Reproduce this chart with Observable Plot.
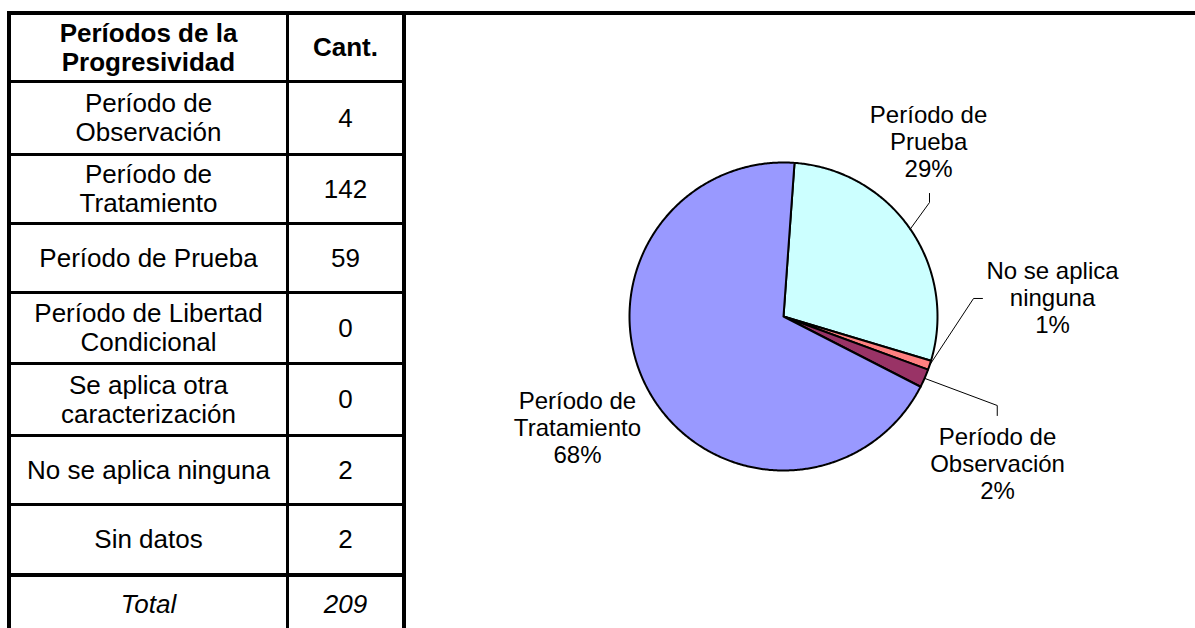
<!DOCTYPE html>
<html><head><meta charset="utf-8">
<script src="https://cdn.jsdelivr.net/npm/d3@7"></script>
<script src="https://cdn.jsdelivr.net/npm/@observablehq/plot@0.6"></script>
<style>
html,body{margin:0;padding:0;background:#fff;}
#page{position:relative;width:1195px;height:628px;overflow:hidden;font-family:Arial,"Liberation Sans",sans-serif;color:#000;background:#fff;}
#chart{position:absolute;left:0;top:0;}
.ln{position:absolute;background:#000;}
.cell{position:absolute;display:flex;align-items:center;justify-content:center;text-align:center;font-size:26px;line-height:29px;white-space:pre-line;}
</style></head><body><div id="page"><div id="chart"></div></div>
<script>
// ---- Data ----
const categories = ["Período de Observación","Período de Tratamiento","Período de Prueba","Período de Libertad Condicional","Se aplica otra caracterización","No se aplica ninguna","Sin datos"];
const tableLabels = ["Período de\nObservación","Período de\nTratamiento","Período de Prueba","Período de Libertad\nCondicional","Se aplica otra\ncaracterización","No se aplica ninguna","Sin datos"];
const counts = [4,142,59,0,0,2,2];
const headerLabels = ["Períodos de la\nProgresividad","Cant."];
const totalLabel = "Total";
const pieCategories = ["Período de Prueba","No se aplica ninguna","Período de Observación","Período de Tratamiento"];
const pieLabels = ["Período de\nPrueba","No se aplica\nninguna","Período de\nObservación","Período de\nTratamiento"];
const piePercents = ["29%","1%","2%","68%"];
const pieColors = ["#CCFFFF","#FF8080","#993366","#9999FF"];

// ---- Layout (pie units: radius = 1) ----
const R = 154, cx = 783, cy = 316, W = 1195, H = 628;
const startAngle = 4.1 * Math.PI / 180;
const labelPos = [[0.942, 1.136],[1.747, 0.123],[1.390, -0.955],[-1.338, -0.721]];
const leaderElbows = [[[0.948,0.740],[0.948,0.799]], [[1.234,0.117],[1.292,0.117]], [[1.388,-0.578],[1.388,-0.643]], null];

const pieVals = pieCategories.map(c => counts[categories.indexOf(c)]);
const arcs = d3.pie().sort(null).startAngle(startAngle).endAngle(startAngle + 2*Math.PI)(pieVals);

const sliceMarks = arcs.map((a, i) => {
  const pts = [{x:0,y:0}];
  const n = Math.max(2, Math.ceil((a.endAngle - a.startAngle) / (Math.PI/360)));
  for (let k = 0; k <= n; k++) {
    const t = a.startAngle + (a.endAngle - a.startAngle) * k / n;
    pts.push({x: Math.sin(t), y: Math.cos(t)});
  }
  pts.push({x:0,y:0});
  return Plot.line(pts, {x:"x", y:"y", fill: pieColors[i], stroke:"black", strokeWidth:2, strokeLinejoin:"round", curve:"linear"});
});

const leaderPts = [];
arcs.forEach((a, i) => {
  if (!leaderElbows[i]) return;
  const m = (a.startAngle + a.endAngle) / 2;
  leaderPts.push({id:i, x: Math.sin(m), y: Math.cos(m)});
  leaderElbows[i].forEach(p => leaderPts.push({id:i, x:p[0], y:p[1]}));
});

const labelData = pieLabels.map((l, i) => ({x: labelPos[i][0], y: labelPos[i][1], text: l + "\n" + piePercents[i]}));

const plot = Plot.plot({
  width: W, height: H, margin: 0,
  style: {fontFamily: 'Arial, "Liberation Sans", sans-serif', background: "transparent", overflow: "visible"},
  x: {domain: [-cx / R, (W - cx) / R], axis: null},
  y: {domain: [-(H - cy) / R, cy / R], axis: null},
  marks: [
    ...sliceMarks,
    Plot.line(leaderPts, {x:"x", y:"y", z:"id", stroke:"black", strokeWidth:1, curve:"linear"}),
    Plot.text(labelData, {x:"x", y:"y", text:"text", fontSize:24, lineHeight:1.12, fill:"black"})
  ]
});
document.getElementById("chart").appendChild(plot);

// ---- Table ----
const page = document.getElementById("page");
function line(x, y, w, h) {
  const d = document.createElement("div"); d.className = "ln";
  Object.assign(d.style, {left:x+"px", top:y+"px", width:w+"px", height:h+"px"});
  page.appendChild(d);
}
function cell(x0, x1, y0, y1, text, extra) {
  const d = document.createElement("div"); d.className = "cell";
  Object.assign(d.style, {left:x0+"px", top:y0+"px", width:(x1-x0)+"px", height:(y1-y0)+"px"}, extra || {});
  d.textContent = text;
  page.appendChild(d);
}
const colBounds = [[11,286],[289,402]];
const rowBounds = [[15,80],[83,153],[156,222],[225,291],[294,362],[365,434],[437,503],[506,573],[577,631]];
// borders
line(7, 11, W - 7, 4);
line(7, 11, 4, H - 11);
line(286, 15, 3, H - 15);
line(402, 11, 4, H - 11);
[80,153,222,291,362,434,503].forEach(y => line(11, y, 391, 3));
line(11, 573, 391, 4);
// header
cell(colBounds[0][0], colBounds[0][1], rowBounds[0][0], rowBounds[0][1], headerLabels[0], {fontWeight:"bold"});
cell(colBounds[1][0], colBounds[1][1], rowBounds[0][0], rowBounds[0][1], headerLabels[1], {fontWeight:"bold"});
tableLabels.forEach((l, i) => {
  const rb = rowBounds[i+1];
  cell(colBounds[0][0], colBounds[0][1], rb[0], rb[1], l);
  cell(colBounds[1][0], colBounds[1][1], rb[0], rb[1], String(counts[i]));
});
const tb = rowBounds[8];
cell(colBounds[0][0], colBounds[0][1], tb[0], tb[1], totalLabel, {fontStyle:"italic"});
cell(colBounds[1][0], colBounds[1][1], tb[0], tb[1], String(d3.sum(counts)), {fontStyle:"italic"});
</script></body></html>
